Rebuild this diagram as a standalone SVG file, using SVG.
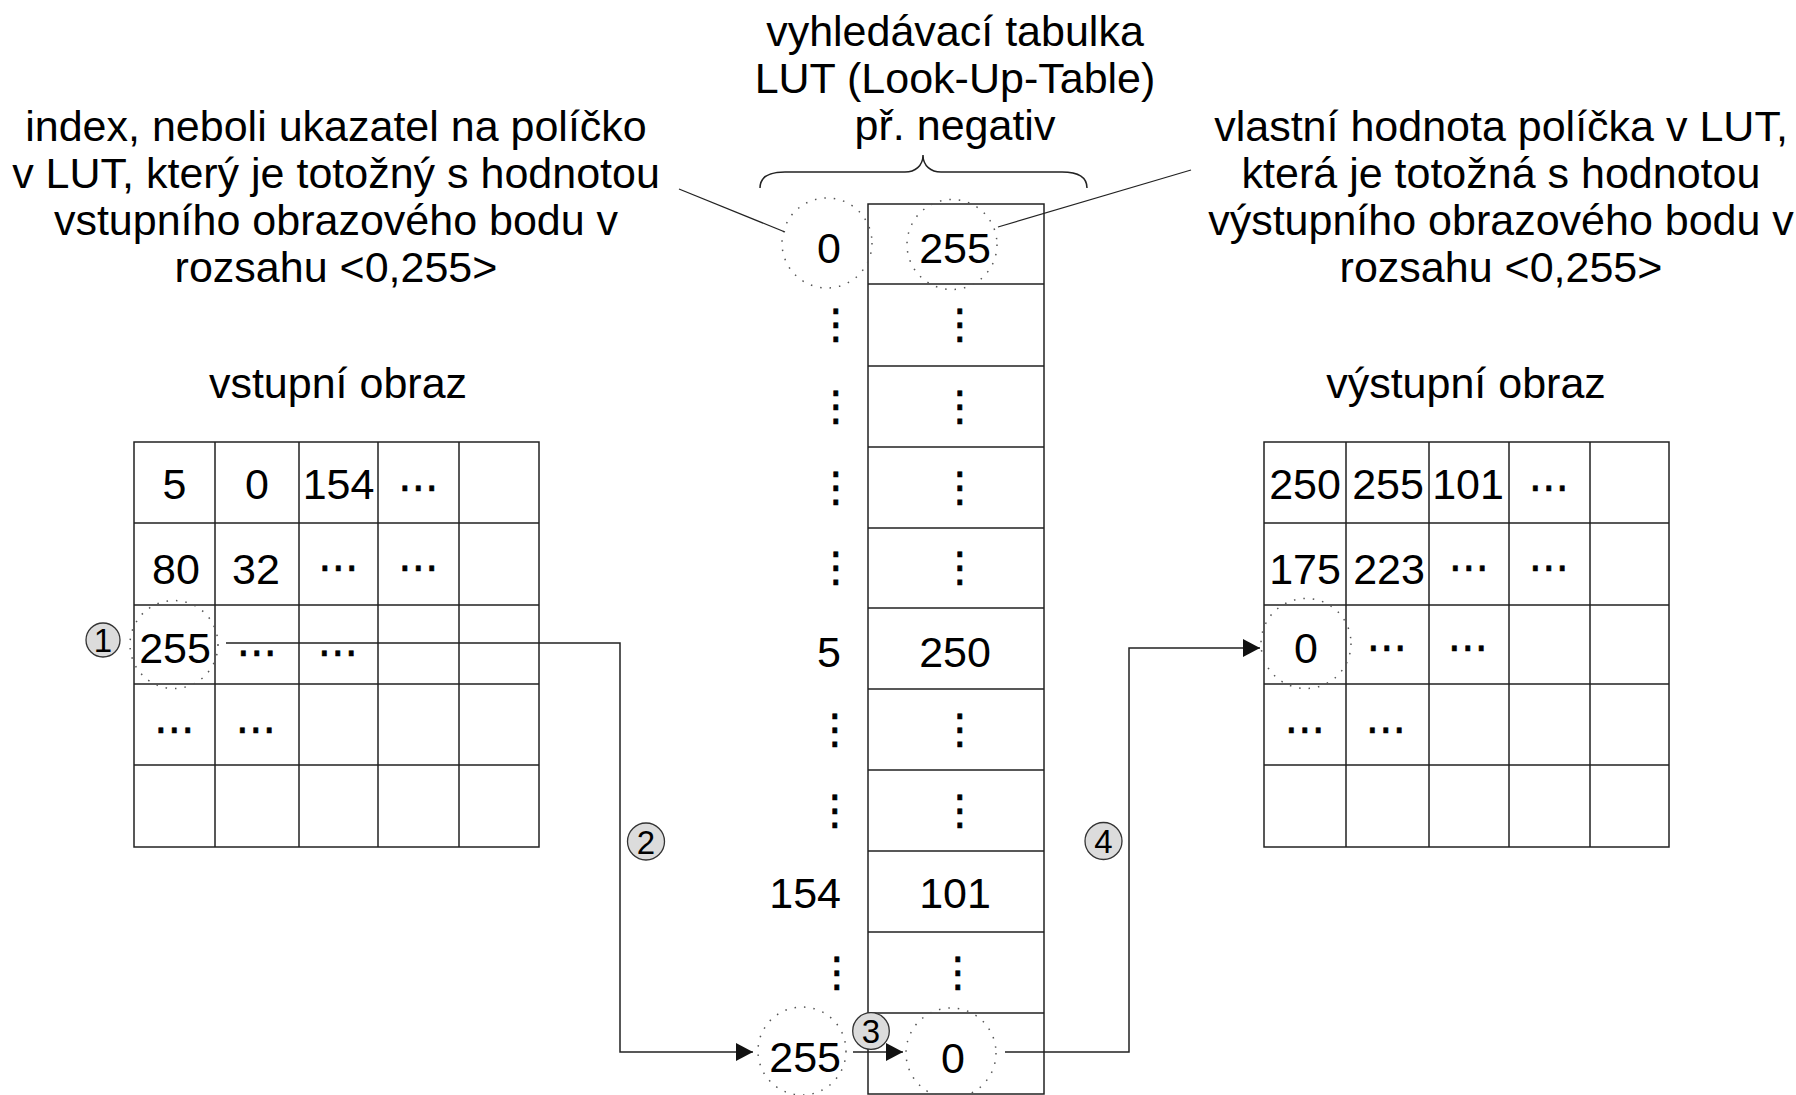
<svg xmlns="http://www.w3.org/2000/svg" width="1796" height="1095" viewBox="0 0 1796 1095">
<style>
.t{font-family:"Liberation Sans",Arial,sans-serif;font-size:43px;fill:#000}
.c{text-anchor:middle}
.e{text-anchor:end}
.d{font-family:"DejaVu Sans",sans-serif;font-size:41px;text-anchor:middle;fill:#000;stroke:#000;stroke-width:0.6}
.g{fill:none;stroke:#222;stroke-width:1.5}
.dc{fill:none;stroke:#555;stroke-width:1.5;stroke-dasharray:1.5 8}
.b circle{fill:#dcdcdc;stroke:#333;stroke-width:1.3}
.b text{font-family:"Liberation Sans",Arial,sans-serif;font-size:33px;text-anchor:middle;fill:#000}
.k{fill:none;stroke:#222;stroke-width:1.5}
.p{fill:none;stroke:#222;stroke-width:1.2}
</style>
<defs>
<marker id="ah" markerUnits="userSpaceOnUse" viewBox="0 0 17 18" refX="17" refY="9" markerWidth="17" markerHeight="18" orient="auto">
<path d="M0,0 L17,9 L0,18 z" fill="#111"/>
</marker>
</defs>
<rect width="1796" height="1095" fill="#fff"/>

<g id="label-lut">
<text class="t c" x="955" y="46">vyhledávací tabulka</text>
<text class="t c" x="955" y="93">LUT (Look-Up-Table)</text>
<text class="t c" x="955" y="140">př. negativ</text>
<path class="g" d="M760,188 C760,176 770,172 785,172 L905,172 C915,172 923,166 923,155 C923,166 931,172 941,172 L1062,172 C1077,172 1087,176 1087,188"/>
</g>

<g id="label-index">
<text class="t c" x="336" y="141">index, neboli ukazatel na políčko</text>
<text class="t c" x="336" y="188">v LUT, který je totožný s hodnotou</text>
<text class="t c" x="336" y="235">vstupního obrazového bodu v</text>
<text class="t c" x="336" y="282">rozsahu &lt;0,255&gt;</text>
</g>

<g id="label-value">
<text class="t c" x="1501" y="141">vlastní hodnota políčka v LUT,</text>
<text class="t c" x="1501" y="188">která je totožná s hodnotou</text>
<text class="t c" x="1501" y="235">výstupního obrazového bodu v</text>
<text class="t c" x="1501" y="282">rozsahu &lt;0,255&gt;</text>
</g>

<g id="input-image">
<text class="t c" x="338" y="398">vstupní obraz</text>
<rect class="g" x="134" y="442" width="405" height="405"/>
<path class="g" d="M215,442V847M299,442V847M378,442V847M459,442V847M134,523H539M134,605H539M134,684H539M134,765H539"/>
<text class="t c" x="174.5" y="499">5</text>
<text class="t c" x="257" y="499">0</text>
<text class="t c" x="338.5" y="499">154</text>
<text class="d" x="418.5" y="501">⋯</text>
<text class="t c" x="176" y="584">80</text>
<text class="t c" x="256" y="584">32</text>
<text class="d" x="338.5" y="581">⋯</text>
<text class="d" x="418.5" y="581">⋯</text>
<text class="t c" x="175" y="663">255</text>
<text class="d" x="257" y="666">⋯</text>
<text class="d" x="338" y="666">⋯</text>
<text class="d" x="174.5" y="743">⋯</text>
<text class="d" x="256" y="743">⋯</text>
<circle class="dc" cx="174" cy="644.5" r="44"/>
</g>

<g id="output-image">
<text class="t c" x="1466" y="398">výstupní obraz</text>
<rect class="g" x="1264" y="442" width="405" height="405"/>
<path class="g" d="M1346,442V847M1429,442V847M1509,442V847M1590,442V847M1264,523H1669M1264,605H1669M1264,684H1669M1264,765H1669"/>
<text class="t c" x="1305" y="499">250</text>
<text class="t c" x="1388" y="499">255</text>
<text class="t c" x="1468" y="499">101</text>
<text class="d" x="1549" y="501">⋯</text>
<text class="t c" x="1305" y="584">175</text>
<text class="t c" x="1389" y="584">223</text>
<text class="d" x="1469" y="581">⋯</text>
<text class="d" x="1549" y="581">⋯</text>
<text class="t c" x="1306" y="663">0</text>
<text class="d" x="1387" y="661">⋯</text>
<text class="d" x="1468" y="661">⋯</text>
<text class="d" x="1305" y="743">⋯</text>
<text class="d" x="1386" y="743">⋯</text>
<circle class="dc" cx="1306" cy="643.5" r="45"/>
</g>

<g id="lut">
<rect class="g" x="868" y="204" width="176" height="890"/>
<path class="g" d="M868,284H1044M868,366H1044M868,447H1044M868,528H1044M868,608H1044M868,689H1044M868,770H1044M868,851H1044M868,932H1044M868,1013H1044"/>
<text class="t e" x="841" y="263">0</text>
<text class="t c" x="955" y="263">255</text>
<text class="d" x="836" y="338">⋮</text><text class="d" x="960" y="338">⋮</text>
<text class="d" x="836" y="419.5">⋮</text><text class="d" x="960" y="419.5">⋮</text>
<text class="d" x="836" y="500.5">⋮</text><text class="d" x="960" y="500.5">⋮</text>
<text class="d" x="836" y="581">⋮</text><text class="d" x="960" y="581">⋮</text>
<text class="t e" x="841" y="667">5</text>
<text class="t c" x="955" y="667">250</text>
<text class="d" x="835" y="742.5">⋮</text><text class="d" x="960" y="742.5">⋮</text>
<text class="d" x="835" y="823.5">⋮</text><text class="d" x="960" y="823.5">⋮</text>
<text class="t e" x="841" y="908">154</text>
<text class="t c" x="955" y="908">101</text>
<text class="d" x="837" y="985.5">⋮</text><text class="d" x="958" y="985.5">⋮</text>
<text class="t e" x="841" y="1072">255</text>
<text class="t c" x="953" y="1073">0</text>
<circle class="dc" cx="827" cy="243" r="45"/>
<circle class="dc" cx="952" cy="244.5" r="45"/>
<circle class="dc" cx="802" cy="1051" r="44"/>
<circle class="dc" cx="951" cy="1053" r="45"/>
</g>

<g id="connectors">
<path class="p" d="M679,189 L785,232"/>
<path class="p" d="M998,227 L1191,170"/>
<path class="k" d="M226,643 H620 V1052 H753" marker-end="url(#ah)"/>
<path class="k" d="M853,1052 H903" marker-end="url(#ah)"/>
<path class="k" d="M1005,1052 H1129 V648 H1260" marker-end="url(#ah)"/>
</g>

<g id="step-1" class="b"><circle cx="103" cy="640" r="17"/><text x="103" y="652">1</text></g>
<g id="step-2" class="b"><circle cx="646" cy="841.5" r="18.5"/><text x="646" y="854">2</text></g>
<g id="step-3" class="b"><circle cx="871" cy="1031" r="18.3"/><text x="871" y="1043">3</text></g>
<g id="step-4" class="b"><circle cx="1103.5" cy="841" r="18.5"/><text x="1103.5" y="853">4</text></g>
</svg>
